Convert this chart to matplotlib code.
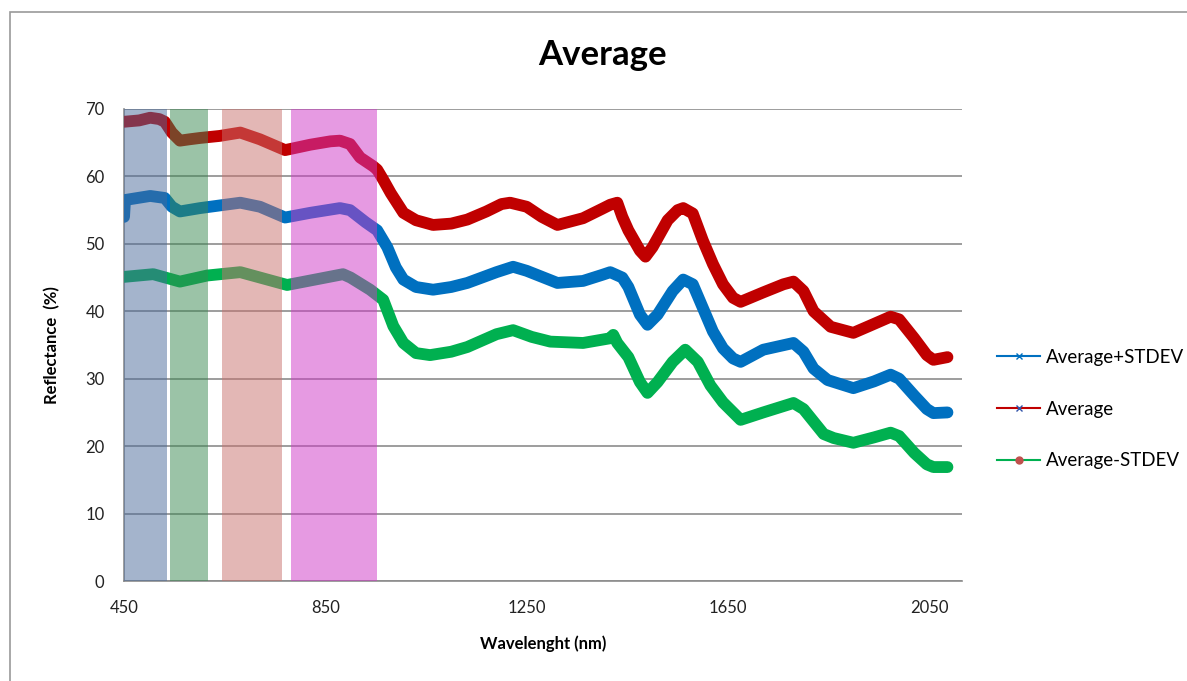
import matplotlib
matplotlib.use("Agg")
import matplotlib.pyplot as plt
from matplotlib.lines import Line2D
from matplotlib.patches import Rectangle

plt.rcParams['font.family'] = ['Lato', 'DejaVu Sans']

# wavelength (nm) / reflectance (%)
avg_nm = [450, 480, 502, 520, 531, 545, 561, 580, 601, 640, 681, 720, 770, 820, 860,
          879, 899, 919, 945, 953, 965, 980, 1005, 1030, 1064, 1100, 1132, 1170, 1200,
          1217, 1250, 1280, 1311, 1362, 1400, 1416, 1430, 1440, 1452, 1475, 1486, 1500,
          1530, 1550, 1561, 1580, 1600, 1620, 1640, 1660, 1675, 1720, 1760, 1780, 1800,
          1820, 1854, 1899, 1930, 1973, 1990, 2020, 2045, 2058, 2086]
avg_val = [68.1, 68.3, 68.7, 68.5, 68.1, 66.5, 65.3, 65.5, 65.7, 66.0, 66.5, 65.5, 63.9, 64.7, 65.2,
           65.3, 64.8, 62.8, 61.5, 61.0, 59.5, 57.5, 54.6, 53.5, 52.8, 53.0, 53.6, 54.8, 55.9,
           56.1, 55.5, 54.0, 52.8, 53.8, 55.2, 55.8, 56.1, 54.0, 52.0, 49.0, 48.1, 49.5,
           53.5, 55.0, 55.3, 54.5, 50.5, 47.0, 44.0, 42.0, 41.4, 42.8, 44.0, 44.4, 43.0,
           40.0, 37.7, 36.8, 37.8, 39.2, 38.8, 36.0, 33.5, 32.8, 33.2]

plus_nm = [450, 452, 502, 531, 545, 561, 601, 681, 720, 770, 820, 879, 899, 930, 953, 973,
           990, 1005, 1030, 1064, 1100, 1132, 1190, 1223, 1250, 1311, 1362, 1400, 1416,
           1440, 1452, 1475, 1490, 1510, 1540, 1561, 1580, 1600, 1620, 1640, 1660, 1675,
           1720, 1780, 1800, 1820, 1848, 1899, 1940, 1973, 1990, 2020, 2045, 2058, 2086]
plus_val = [54.0, 56.5, 57.1, 56.8, 55.5, 54.8, 55.3, 56.1, 55.5, 53.9, 54.6, 55.3, 55.0, 53.2, 52.0, 49.5,
            46.5, 44.7, 43.6, 43.2, 43.6, 44.2, 45.8, 46.6, 46.0, 44.2, 44.5, 45.4, 45.8,
            45.0, 43.6, 39.5, 38.0, 39.5, 43.0, 44.7, 44.0, 40.5, 37.0, 34.5, 33.0, 32.5,
            34.3, 35.3, 34.0, 31.5, 29.8, 28.6, 29.6, 30.6, 30.0, 27.5, 25.5, 24.9, 25.0]

minus_nm = [450, 508, 561, 615, 681, 774, 885, 900, 939, 965, 985, 1005, 1030, 1058, 1100,
            1132, 1190, 1223, 1260, 1297, 1362, 1416, 1422, 1430, 1452, 1475, 1490, 1510,
            1540, 1565, 1590, 1615, 1640, 1675, 1720, 1780, 1800, 1840, 1860, 1899, 1940,
            1973, 1990, 2020, 2045, 2058, 2086]
minus_val = [45.1, 45.5, 44.4, 45.3, 45.8, 43.9, 45.5, 45.0, 43.2, 41.7, 37.8, 35.3, 33.8, 33.5, 34.0,
             34.7, 36.6, 37.2, 36.2, 35.5, 35.3, 36.0, 36.5, 35.3, 33.2, 29.5, 27.9, 29.5,
             32.5, 34.3, 32.5, 29.0, 26.5, 23.9, 25.0, 26.4, 25.5, 21.8, 21.2, 20.5, 21.3,
             22.0, 21.5, 19.0, 17.3, 16.9, 16.9]

# spectral bands shaded on the plot (start, end in nm)
band_start = [450, 541, 645, 782]
band_end = [535, 617, 764, 953]
band_colors = ['#4a6a9a', '#398951', '#c9716d', '#cf37c7']

fig = plt.figure(figsize=(11.87, 6.81), dpi=100)
ax = fig.add_axes([0.1045, 0.1468, 0.7060, 0.6932])

# outer chart-area border
fig.patches.append(Rectangle((10 / 1187, -0.01), 1.2, 1 - 12 / 681 + 0.01,
                             transform=fig.transFigure, fill=False,
                             edgecolor='#9a9a9a', lw=1.2))

ax.plot(plus_nm, plus_val, color='#0070c0', lw=8.5, solid_joinstyle='round',
        solid_capstyle='round', zorder=3)
ax.plot(avg_nm, avg_val, color='#c00000', lw=8.5, solid_joinstyle='round',
        solid_capstyle='round', zorder=3)
ax.plot(minus_nm, minus_val, color='#00b050', lw=8.5, solid_joinstyle='round',
        solid_capstyle='round', zorder=3)

for s, e, c in zip(band_start, band_end, band_colors):
    ax.axvspan(s, e, ymin=0, ymax=1, color=c, alpha=0.5, lw=0, zorder=4)

ax.set_xlim(450, 2115)
ax.set_ylim(0, 70)
ax.set_xticks([450, 850, 1250, 1650, 2050])
ax.set_yticks(range(0, 71, 10))
ax.yaxis.grid(True, color='#8c8c8c', lw=1.2)
ax.set_axisbelow(True)
ax.tick_params(axis='both', length=0, labelsize=12, colors='#222222')
ax.tick_params(axis='x', pad=14)
ax.tick_params(axis='y', pad=14)
for side in ['top', 'right']:
    ax.spines[side].set_visible(False)
for side in ['left', 'bottom']:
    ax.spines[side].set_color('#8c8c8c')
    ax.spines[side].set_linewidth(1.2)

ax.set_xlabel('Wavelenght (nm)', fontsize=12, fontweight='bold', labelpad=14)
ax.set_ylabel('Reflectance  (%)', fontsize=12, fontweight='bold', labelpad=18)
fig.text(603 / 1187, 1 - 55 / 681, 'Average', fontsize=25, fontweight='bold',
         ha='center', va='center')

handles = [
    Line2D([], [], color='#0070c0', lw=1.5, marker='x', markersize=5),
    Line2D([], [], color='#c00000', lw=1.5, marker='x', markersize=5,
           markeredgecolor='#3355aa'),
    Line2D([], [], color='#00b050', lw=1.5, marker='o', markersize=5,
           markerfacecolor='#c0504d', markeredgecolor='#c0504d'),
]
fig.legend(handles, ['Average+STDEV', 'Average', 'Average-STDEV'],
           loc='center left', bbox_to_anchor=(0.826, 1 - 409 / 681),
           frameon=False, fontsize=13.5, labelspacing=1.85, handlelength=2.3,
           handletextpad=0.3)

fig.savefig('out.png', dpi=100)
